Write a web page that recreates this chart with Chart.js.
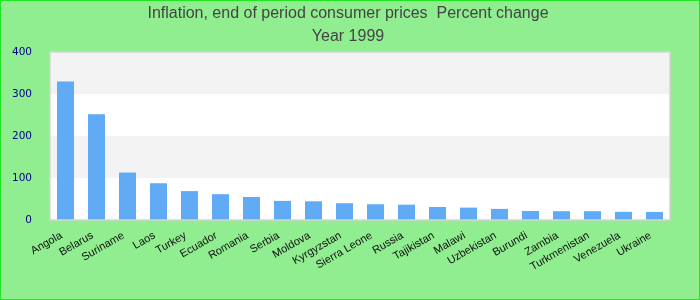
<!DOCTYPE html>
<html lang="en">
<head>
<meta charset="UTF-8">
<title>Inflation 1999</title>
<script src="https://cdn.jsdelivr.net/npm/chart.js@4.4.1/dist/chart.umd.min.js"></script>
<style>
    body { margin: 0; }
    #wrap { width: 700px; height: 300px; position: relative; }
</style>
</head>
<body>
<div id="wrap"><canvas id="chart"></canvas></div>
<script>
    const countries = ['Angola', 'Belarus', 'Suriname', 'Laos', 'Turkey', 'Ecuador', 'Romania', 'Serbia',
        'Moldova', 'Kyrgyzstan', 'Sierra Leone', 'Russia', 'Tajikistan', 'Malawi', 'Uzbekistan', 'Burundi',
        'Zambia', 'Turkmenistan', 'Venezuela', 'Ukraine'];
    const inflation = [330, 251.5, 113, 87.5, 68.8, 61.5, 54.8, 45.5, 44.5, 40, 37.5, 36.5, 31, 29.5, 26.5,
        21.5, 21, 21, 19.5, 19.2];
    const titleLines = ['Inflation, end of period consumer prices  Percent change', 'Year 1999'];
    const yTicks = [0, 100, 200, 300, 400];

    // background, border and the title lines
    const frame = {
        id: 'frame',
        beforeDraw(chart) {
            const ctx = chart.ctx;
            ctx.save();
            ctx.fillStyle = '#90ee90';
            ctx.fillRect(0, 0, chart.width, chart.height);
            ctx.strokeStyle = '#22e622';
            ctx.lineWidth = 2;
            ctx.strokeRect(0, 0, chart.width, chart.height);
            ctx.fillStyle = '#444';
            ctx.font = '16px "Liberation Sans", Arial, sans-serif';
            ctx.textAlign = 'center';
            ctx.textBaseline = 'alphabetic';
            ctx.fillText(titleLines[0], 348, 18);
            ctx.fillText(titleLines[1], 348, 41);
            ctx.restore();
        },
        beforeDatasetsDraw(chart) {
            const { ctx, chartArea: a, scales: { y } } = chart;
            ctx.save();
            for (let i = 0; i < yTicks.length - 1; i++) {
                const top = y.getPixelForValue(yTicks[i + 1]);
                const bottom = y.getPixelForValue(yTicks[i]);
                ctx.fillStyle = i % 2 ? '#f3f3f3' : '#ffffff';
                ctx.fillRect(a.left, top, a.right - a.left, bottom - top);
            }
            ctx.restore();
        },
        afterDatasetsDraw(chart) {
            const { ctx, chartArea: a } = chart;
            ctx.save();
            ctx.strokeStyle = '#d3d3d3';
            ctx.lineWidth = 1.5;
            ctx.strokeRect(a.left, a.top, a.right - a.left, a.bottom - a.top);
            ctx.restore();
        }
    };

    new Chart(document.getElementById('chart'), {
        type: 'bar',
        data: {
            labels: countries,
            datasets: [{
                data: inflation,
                backgroundColor: '#61aaf5',
                barPercentage: 0.55,
                categoryPercentage: 1
            }]
        },
        options: {
            responsive: true,
            maintainAspectRatio: false,
            animation: false,
            layout: { padding: { top: 52, right: 30, left: 0, bottom: 0 } },
            plugins: {
                legend: { display: false },
                tooltip: { enabled: false }
            },
            scales: {
                x: {
                    grid: { display: false },
                    border: { display: false },
                    ticks: {
                        color: '#111',
                        font: { family: '"Liberation Sans", Arial, sans-serif', size: 11 },
                        minRotation: 30,
                        maxRotation: 30,
                        padding: 1,
                        labelOffset: -4,
                        autoSkip: false
                    },
                    afterFit(scale) { scale.height = 80; }
                },
                y: {
                    min: 0,
                    max: 400,
                    grid: { display: false },
                    border: { display: false },
                    ticks: {
                        stepSize: 100,
                        color: '#00008b',
                        font: { family: '"DejaVu Sans", sans-serif', size: 10.5 },
                        padding: 10
                    },
                    afterFit(scale) { scale.width = 50; }
                }
            }
        },
        plugins: [frame]
    });
</script>
</body>
</html>
